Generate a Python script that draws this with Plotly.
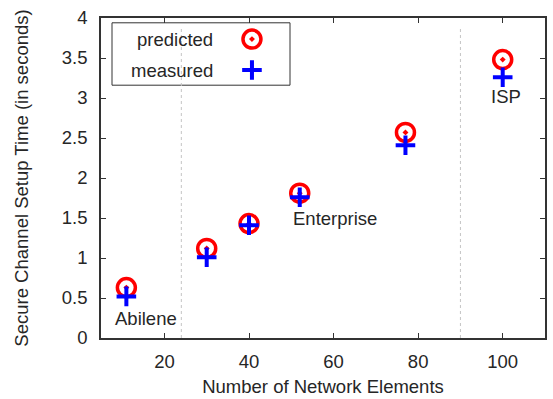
import plotly.graph_objects as go

# Data
elements = [11, 30, 40, 52, 77, 100]
predicted = [0.63, 1.12, 1.43, 1.81, 2.57, 3.48]
measured = [0.52, 1.01, 1.41, 1.76, 2.41, 3.26]
separators = [24, 90]
labels = ["Abilene", "Enterprise", "ISP"]
label_x = [15.7, 60.4, 100.7]
label_y = [0.25, 1.5, 3.02]
x_ticks = [20, 40, 60, 80, 100]
y_ticks = [0, 0.5, 1, 1.5, 2, 2.5, 3, 3.5, 4]
y_ticklabels = ["0", "0.5", "1", "1.5", "2", "2.5", "3", "3.5", "4"]
legend_names = ["predicted", "measured"]

FONT = "Liberation Sans, Arial, sans-serif"
FS = 18.5
TXT = "#262626"
AX = "#333333"

fig = go.Figure()

fig.add_trace(go.Scatter(
    x=elements, y=predicted, mode="markers", name="predicted",
    marker=dict(symbol="circle-open-dot", size=18, color="#ff0000",
                line=dict(width=3.5, color="#ff0000")),
    showlegend=False))
fig.add_trace(go.Scatter(
    x=elements, y=measured, mode="markers", name="measured",
    marker=dict(symbol="cross-thin", size=14, color="#0000ff",
                line=dict(width=4, color="#0000ff")),
    showlegend=False))

# custom legend markers on overlay axes (paper-like)
fig.add_trace(go.Scatter(
    x=[0.340], y=[0.934], mode="markers", xaxis="x2", yaxis="y2",
    marker=dict(symbol="circle-open-dot", size=18, color="#ff0000",
                line=dict(width=3.5, color="#ff0000")),
    showlegend=False, hoverinfo="skip"))
fig.add_trace(go.Scatter(
    x=[0.340], y=[0.8375], mode="markers", xaxis="x2", yaxis="y2",
    marker=dict(symbol="cross-thin", size=14, color="#0000ff",
                line=dict(width=4, color="#0000ff")),
    showlegend=False, hoverinfo="skip"))

shapes = []
for sx in separators:
    shapes.append(dict(type="line", xref="x", yref="y", x0=sx, x1=sx, y0=0, y1=3.9,
                       line=dict(color="#c4c4c4", width=1, dash="dot"), layer="below"))
shapes.append(dict(type="rect", xref="paper", yref="paper",
                   x0=0.0248, x1=0.4257, y0=0.790, y1=0.985,
                   fillcolor="white", line=dict(color=AX, width=1), layer="below"))

annotations = []
for t, ax_, ay_ in zip(labels, label_x, label_y):
    annotations.append(dict(x=ax_, y=ay_, xref="x", yref="y", text=t, showarrow=False,
                            xanchor="center", yanchor="middle",
                            font=dict(family=FONT, size=FS, color=TXT)))
for name, py in zip(legend_names, [0.934, 0.8375]):
    annotations.append(dict(x=0.257, y=py, xref="paper", yref="paper", text=name,
                            showarrow=False, xanchor="right", yanchor="middle",
                            font=dict(family=FONT, size=FS, color=TXT)))

fig.update_layout(
    width=553, height=399,
    margin=dict(l=101, r=8, t=18, b=61),
    paper_bgcolor="white", plot_bgcolor="white",
    font=dict(family=FONT, size=FS, color=TXT),
    shapes=shapes, annotations=annotations,
    xaxis=dict(range=[5, 110], tickvals=x_ticks, ticks="inside", ticklen=5,
               tickcolor=AX, tickwidth=1, showline=True, linecolor=AX, linewidth=1.5,
               mirror="ticks", showgrid=False, zeroline=False, automargin=False,
               ticklabelstandoff=6,
               title=dict(text="Number of Network Elements", standoff=9,
                          font=dict(family=FONT, size=FS, color=TXT))),
    yaxis=dict(range=[0, 4], tickvals=y_ticks, ticktext=y_ticklabels, ticks="inside",
               ticklen=5, tickcolor=AX, tickwidth=1, showline=True, linecolor=AX,
               linewidth=1.5, mirror="ticks", showgrid=False, zeroline=False,
               automargin=False, ticklabelstandoff=8,
               title=dict(text="Secure Channel Setup Time (in seconds)", standoff=28,
                          font=dict(family=FONT, size=FS, color=TXT))),
    xaxis2=dict(range=[0, 1], overlaying="x", visible=False, domain=[0, 1]),
    yaxis2=dict(range=[0, 1], overlaying="y", visible=False, domain=[0, 1]),
    showlegend=False,
)

fig.write_html("out.html", config={"displayModeBar": False},
               post_script="document.body.style.margin='0';")
